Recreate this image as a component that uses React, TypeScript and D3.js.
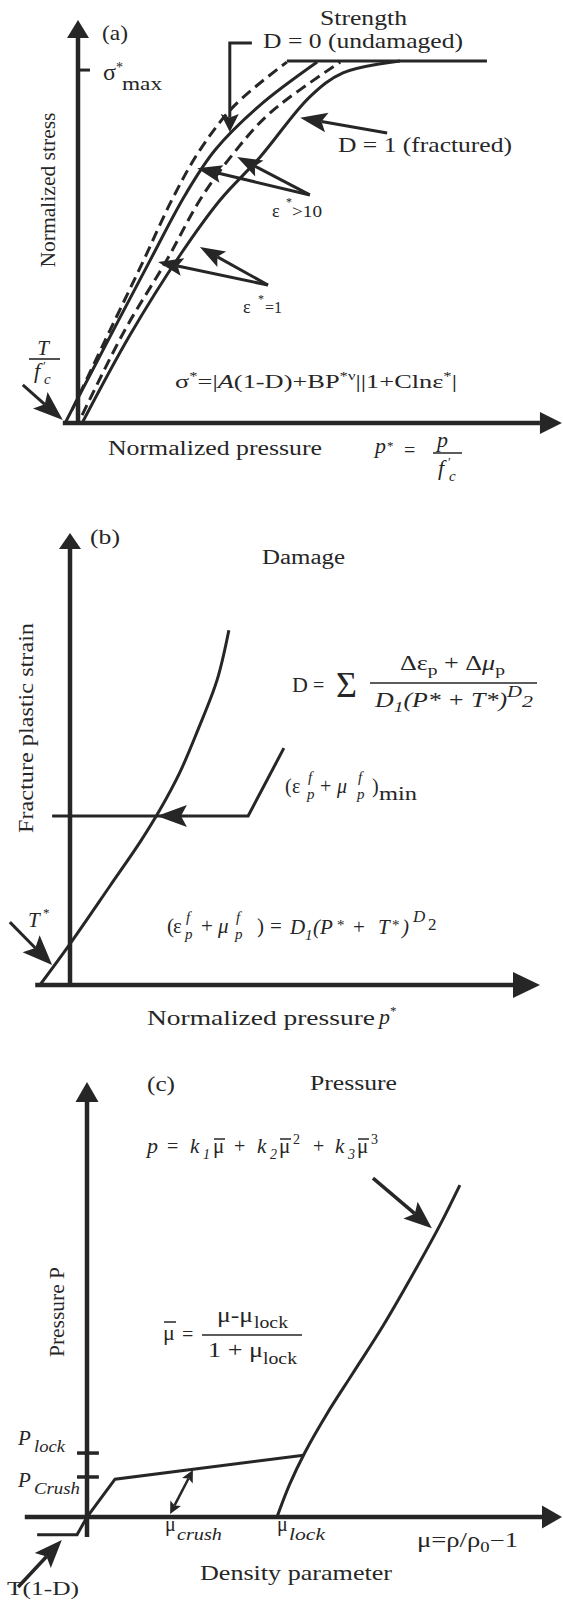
import React from 'react';
import * as d3 from 'd3';

type Pt = [number, number];

const W = 563;
const H = 1600;
const FONT = '"Liberation Serif","Times New Roman",Times,serif';
const INK = '#262626';

// ---------- Panel (a): strength surfaces (u = normalized pressure, v = normalized stress, cap = 100)
const strengthIntactHighRate: Pt[] = [[-1.3, 3.6], [7.0, 25.7], [14.1, 44.5], [20.4, 61.6], [26.5, 75.4], [34.1, 87.8], [45.4, 99.7]];
const strengthIntact: Pt[] = [[-2.8, 0], [0, 6.9], [15.7, 45.0], [23.3, 63.0], [29.8, 75.4], [39.6, 87.8], [52.0, 99.7]];
const strengthFracturedHighRate: Pt[] = [[0.9, 2.2], [10.2, 25.7], [19.3, 45.0], [26.5, 61.6], [33.5, 74.0], [41.7, 85.6], [57.0, 99.7]];
const strengthFractured: Pt[] = [[0.9, 0], [11.3, 24.3], [22.2, 46.4], [30.9, 61.6], [39.6, 73.5], [50.4, 90.1], [57.6, 96.7], [70.0, 100]];
const strengthCap: Pt[] = [[45.4, 100], [88.9, 100]];
const sigmaMaxLevel = 97.5;
const axisA = { x: [-3.3, 105.2], y: [0, 111.3] };
const arrowsA = {
  undamaged: [[37.8, 105], [33, 105], [33, 80.4]] as Pt[],
  fractured: [[67.2, 80.1], [48.3, 84.3]] as Pt[],
  highRate: [[[50.4, 63], [25.9, 70.4]], [[50.4, 63], [34.6, 73.5]]] as Pt[][],
  unitRate: [[[41.3, 38.1], [17.4, 44.5]], [[41.3, 38.1], [26.5, 48.6]]] as Pt[][],
  tension: [[-12, 10.5], [-3.3, 0.8]] as Pt[],
};

// ---------- Panel (b): fracture strain vs pressure
const fractureStrain: Pt[] = [[-6.4, 0], [0, 9.1], [8.5, 21.9], [14.9, 31.6], [19.1, 38.7], [23.4, 47.1], [27.2, 56.4], [31.3, 67.5], [33.8, 78.5]];
const minStrainLine: Pt[] = [[-3.8, 37.4], [37.9, 37.4], [45.5, 52.4]];
const minStrainArrowTip: Pt = [18.5, 37.4];
const axisB = { x: [-7.4, 100], y: [0, 100] };
const arrowsB = { tension: [[-12.8, 13.9], [-3.8, 4.4]] as Pt[] };

// ---------- Panel (c): pressure vs density
const crushPath: Pt[] = [[-10.5, -4.1], [-2.1, -4.1], [0, 0], [5.9, 8.7], [45.6, 14.2]];
const compactionCurve: Pt[] = [[40, 0], [42.7, 7.6], [45.9, 14.9], [50.5, 23.7], [56.0, 33.1], [62.3, 43.9], [68.4, 55.4], [74.3, 67.1], [78.5, 76.3]];
const pressureTicks = [14.7, 9.2];
const axisC = { x: [-13.1, 100], y: [-4.6, 100] };
const arrowsC = {
  formula: [[60.2, 77.9], [72.6, 66.4]] as Pt[],
  tension: [[-14.5, -16.1], [-5.3, -5.3]] as Pt[],
  crushSpan: [[17.5, 0.7], [22.3, 10.8]] as Pt[],
};

function headPath(tx: number, ty: number, ux: number, uy: number, len: number, hw: number, notch: number) {
  const bx = tx - ux * len, by = ty - uy * len;
  const mx = tx - ux * len * notch, my = ty - uy * len * notch;
  const nx = -uy, ny = ux;
  return `M${tx},${ty}L${bx + nx * hw},${by + ny * hw}L${mx},${my}L${bx - nx * hw},${by - ny * hw}Z`;
}

function Arrow({ pts, len, hw, sw, notch = 0.8, both = false }: { pts: Pt[]; len: number; hw: number; sw: number; notch?: number; both?: boolean }) {
  const n = pts.length;
  const [x1, y1] = pts[n - 2];
  const [x2, y2] = pts[n - 1];
  const L = Math.hypot(x2 - x1, y2 - y1);
  const ux = (x2 - x1) / L, uy = (y2 - y1) / L;
  const linePts = pts.map((p) => [p[0], p[1]] as Pt);
  linePts[n - 1] = [x2 - ux * len * notch, y2 - uy * len * notch];
  let startHead = null;
  if (both) {
    const [a0, a1] = pts[0];
    const [b0, b1] = pts[1];
    const L2 = Math.hypot(b0 - a0, b1 - a1);
    const vx = (a0 - b0) / L2, vy = (a1 - b1) / L2;
    linePts[0] = [a0 - vx * len * notch, a1 - vy * len * notch];
    startHead = <path d={headPath(a0, a1, vx, vy, len, hw, notch)} fill={INK} />;
  }
  return (
    <g>
      <path d={d3.line()(linePts) || ''} fill="none" stroke={INK} strokeWidth={sw} strokeLinejoin="miter" />
      <path d={headPath(x2, y2, ux, uy, len, hw, notch)} fill={INK} />
      {startHead}
    </g>
  );
}

function T({ x, y, size = 20, italic = false, anchor = 'start', len, transform, children }: any) {
  return (
    <text
      x={x}
      y={y}
      fontSize={size}
      fontStyle={italic ? 'italic' : 'normal'}
      textAnchor={anchor}
      textLength={len}
      lengthAdjust={len ? 'spacingAndGlyphs' : undefined}
      transform={transform}
      fill={INK}
      fontFamily={FONT}
    >
      {children}
    </text>
  );
}

function Bar({ x1, x2, y }: { x1: number; x2: number; y: number }) {
  return <line x1={x1} x2={x2} y1={y} y2={y} stroke={INK} strokeWidth={1.5} />;
}

export default function App() {
  const xA = d3.scaleLinear().domain([0, 100]).range([78, 538]);
  const yA = d3.scaleLinear().domain([0, 100]).range([423, 61]);
  const xB = d3.scaleLinear().domain([0, 100]).range([70, 540]);
  const yB = d3.scaleLinear().domain([0, 100]).range([985, 533]);
  const xC = d3.scaleLinear().domain([0, 100]).range([87, 562]);
  const yC = d3.scaleLinear().domain([0, 100]).range([1517, 1082]);

  const mk = (sx: any, sy: any) => (d: Pt): Pt => [sx(d[0]), sy(d[1])];
  const pA = mk(xA, yA), pB = mk(xB, yB), pC = mk(xC, yC);
  const smooth = (sx: any, sy: any) =>
    d3.line<Pt>().x((d) => sx(d[0])).y((d) => sy(d[1])).curve(d3.curveCatmullRom.alpha(0.5));
  const lineA = smooth(xA, yA), lineB = smooth(xB, yB), lineC = smooth(xC, yC);
  const straight = (sx: any, sy: any) => d3.line<Pt>().x((d) => sx(d[0])).y((d) => sy(d[1]));

  const curveStyle = { fill: 'none', stroke: INK, strokeWidth: 3 };
  const dashStyle = { ...curveStyle, strokeDasharray: '11 6' };

  return (
    <svg width={W} height={H} viewBox={`0 0 ${W} ${H}`} style={{ position: 'absolute', left: 0, top: 0, background: '#fff' }}>
      <rect width={W} height={H} fill="#fff" />

      {/* ================= Panel (a) ================= */}
      <Arrow pts={[pA([axisA.x[0], 0]), pA([axisA.x[1], 0])]} len={22} hw={11} sw={4.5} notch={1} />
      <Arrow pts={[pA([0, axisA.y[0]]), pA([0, axisA.y[1]])]} len={18} hw={11} sw={4.5} notch={1} />
      <line x1={xA(0)} x2={xA(2.6)} y1={yA(sigmaMaxLevel)} y2={yA(sigmaMaxLevel)} stroke={INK} strokeWidth={3} />
      <path d={lineA(strengthIntactHighRate) || ''} style={dashStyle} />
      <path d={lineA(strengthIntact) || ''} style={curveStyle} />
      <path d={lineA(strengthFracturedHighRate) || ''} style={dashStyle} />
      <path d={lineA(strengthFractured) || ''} style={curveStyle} />
      <path d={straight(xA, yA)(strengthCap) || ''} style={curveStyle} />

      <Arrow pts={arrowsA.undamaged.map(pA)} len={18} hw={9} sw={3} />
      <Arrow pts={arrowsA.fractured.map(pA)} len={27} hw={10} sw={3} />
      {arrowsA.highRate.map((a, i) => <Arrow key={'h' + i} pts={a.map(pA)} len={25} hw={9} sw={3} />)}
      {arrowsA.unitRate.map((a, i) => <Arrow key={'u' + i} pts={a.map(pA)} len={25} hw={9} sw={3} />)}
      <Arrow pts={arrowsA.tension.map(pA)} len={30} hw={11} sw={3} />

      <T x={102} y={40} size={21} len={26}>(a)</T>
      <T x={103} y={80} size={24}>σ</T>
      <T x={116} y={72} size={14}>*</T>
      <T x={122} y={90} size={19} len={40}>max</T>
      <T x={0} y={0} size={21.5} anchor="middle" len={155} transform="translate(55,190) rotate(-90)">Normalized stress</T>
      <T x={320} y={25} size={20} len={87}>Strength</T>
      <T x={263} y={48} size={22} len={200}>D = 0 (undamaged)</T>
      <T x={338} y={152} size={22} len={174}>D = 1 (fractured)</T>
      <T x={272} y={217} size={18}>ε</T>
      <T x={286} y={206} size={12}>*</T>
      <T x={292} y={217} size={17} len={30}>&gt;10</T>
      <T x={243} y={313} size={18}>ε</T>
      <T x={258} y={303} size={12}>*</T>
      <T x={265} y={313} size={17} len={17}>=1</T>
      <text x={175} y={388} fontSize={19} fill={INK} fontFamily={FONT} textLength={282} lengthAdjust="spacingAndGlyphs">
        σ<tspan dy={-8} fontSize={12}>*</tspan>
        <tspan dy={8}>=|</tspan>
        <tspan fontStyle="italic">A</tspan>
        <tspan>(1-D)+BP</tspan>
        <tspan dy={-8} fontSize={12}>*ν</tspan>
        <tspan dy={8}>||1+Clnε</tspan>
        <tspan dy={-8} fontSize={12}>*</tspan>
        <tspan dy={8}>|</tspan>
      </text>
      <T x={43} y={355} size={21} italic anchor="middle">T</T>
      <line x1={29} x2={60} y1={359} y2={359} stroke={INK} strokeWidth={1.6} />
      <T x={34} y={378} size={22} italic>f</T>
      <T x={43} y={370} size={13}>′</T>
      <T x={44} y={384} size={15} italic>c</T>
      <T x={108} y={455} size={20} len={214}>Normalized pressure</T>
      <T x={375} y={453} size={22} italic>p</T>
      <T x={387} y={450} size={13}>*</T>
      <T x={404} y={457} size={20}>=</T>
      <T x={437} y={447} size={22} italic>p</T>
      <line x1={433} x2={462} y1={453} y2={453} stroke={INK} strokeWidth={1.5} />
      <T x={438} y={475} size={22} italic>f</T>
      <T x={448} y={466} size={13}>′</T>
      <T x={449} y={481} size={15} italic>c</T>

      {/* ================= Panel (b) ================= */}
      <Arrow pts={[pB([axisB.x[0], 0]), pB([axisB.x[1], 0])]} len={27} hw={13} sw={4.5} notch={1} />
      <Arrow pts={[pB([0, axisB.y[0]]), pB([0, axisB.y[1]])]} len={16} hw={11} sw={4.5} notch={1} />
      <path d={lineB(fractureStrain) || ''} style={curveStyle} />
      <path d={straight(xB, yB)(minStrainLine) || ''} style={curveStyle} />
      <path d={headPath(xB(minStrainArrowTip[0]), yB(minStrainArrowTip[1]), -1, 0, 30, 11, 0.8)} fill={INK} />
      <Arrow pts={arrowsB.tension.map(pB)} len={30} hw={12} sw={3} />

      <T x={90} y={544} size={21} len={30}>(b)</T>
      <T x={262} y={564} size={20} len={83}>Damage</T>
      <T x={0} y={0} size={22} anchor="middle" len={210} transform="translate(33,728) rotate(-90)">Fracture plastic strain</T>
      <T x={292} y={692} size={22}>D</T>
      <T x={313} y={692} size={20}>=</T>
      <T x={336} y={697} size={36}>Σ</T>
      <line x1={370} x2={537} y1={683} y2={683} stroke={INK} strokeWidth={1.6} />
      <text x={400} y={670} fontSize={20} fill={INK} fontFamily={FONT} textLength={105} lengthAdjust="spacingAndGlyphs">
        Δε<tspan dy={5} fontSize={15}>p</tspan>
        <tspan dy={-5}> + Δ</tspan>
        <tspan fontStyle="italic">μ</tspan>
        <tspan dy={5} fontSize={15}>p</tspan>
      </text>
      <text x={375} y={707} fontSize={20} fill={INK} fontFamily={FONT} fontStyle="italic" textLength={158} lengthAdjust="spacingAndGlyphs">
        D<tspan dy={5} fontSize={15}>1</tspan>
        <tspan dy={-5}>(P* + T*)</tspan>
        <tspan dy={-10} fontSize={16}>D</tspan>
        <tspan dy={10} fontSize={17}>2</tspan>
      </text>

      <T x={285} y={793} size={20}>(</T>
      <T x={292} y={793} size={20}>ε</T>
      <T x={308} y={782} size={15} italic>f</T>
      <T x={307} y={799} size={15} italic>p</T>
      <T x={320} y={793} size={20}>+</T>
      <T x={337} y={793} size={20} italic>μ</T>
      <T x={358} y={782} size={15} italic>f</T>
      <T x={357} y={799} size={15} italic>p</T>
      <T x={372} y={793} size={20}>)</T>
      <T x={379} y={800} size={19} len={38}>min</T>

      <T x={167} y={933} size={21}>(</T>
      <T x={173} y={933} size={21}>ε</T>
      <T x={186} y={922} size={15} italic>f</T>
      <T x={185} y={939} size={15} italic>p</T>
      <T x={201} y={933} size={21}>+</T>
      <T x={218} y={933} size={21} italic>μ</T>
      <T x={236} y={922} size={15} italic>f</T>
      <T x={235} y={939} size={15} italic>p</T>
      <T x={257} y={933} size={21}>)</T>
      <T x={270} y={933} size={21}>=</T>
      <T x={290} y={934} size={21} italic>D</T>
      <T x={305} y={940} size={15} italic>1</T>
      <T x={313} y={934} size={21} italic>(</T>
      <T x={320} y={934} size={21} italic>P</T>
      <T x={337} y={930} size={15}>*</T>
      <T x={353} y={934} size={21}>+</T>
      <T x={378} y={934} size={21} italic>T</T>
      <T x={392} y={930} size={15}>*</T>
      <T x={402} y={934} size={21} italic>)</T>
      <T x={413} y={922} size={17} italic>D</T>
      <T x={428} y={930} size={17}>2</T>

      <T x={28} y={927} size={21} italic>T</T>
      <T x={43} y={917} size={13}>*</T>
      <T x={147} y={1025} size={21} len={228}>Normalized pressure</T>
      <T x={379} y={1024} size={22} italic>p</T>
      <T x={390} y={1015} size={13}>*</T>

      {/* ================= Panel (c) ================= */}
      <Arrow pts={[pC([axisC.x[0], 0]), pC([axisC.x[1], 0])]} len={20} hw={11.5} sw={4.5} notch={1} />
      <Arrow pts={[pC([0, axisC.y[0]]), pC([0, axisC.y[1]])]} len={20} hw={11.5} sw={4.5} notch={1} />
      {pressureTicks.map((v, i) => (
        <line key={'t' + i} x1={xC(-2.1)} x2={xC(2.5)} y1={yC(v)} y2={yC(v)} stroke={INK} strokeWidth={3.5} />
      ))}
      <path d={straight(xC, yC)(crushPath) || ''} style={curveStyle} />
      <path d={lineC(compactionCurve) || ''} style={curveStyle} />
      <Arrow pts={arrowsC.formula.map(pC)} len={28} hw={11} sw={3.5} />
      <Arrow pts={arrowsC.tension.map(pC)} len={28} hw={11} sw={3.5} />
      <Arrow pts={arrowsC.crushSpan.map(pC)} len={12} hw={6} sw={2.5} both />

      <T x={147} y={1091} size={21} len={28}>(c)</T>
      <T x={310} y={1090} size={20} len={87}>Pressure</T>
      <T x={147} y={1153} size={22} italic>p</T>
      <T x={167} y={1153} size={20}>=</T>
      <T x={190} y={1153} size={21} italic>k</T>
      <T x={203} y={1159} size={14} italic>1</T>
      <T x={213} y={1153} size={21}>μ</T>
      <Bar x1={214} x2={225} y={1139} />
      <T x={234} y={1153} size={20}>+</T>
      <T x={257} y={1153} size={21} italic>k</T>
      <T x={270} y={1159} size={14} italic>2</T>
      <T x={279} y={1153} size={21}>μ</T>
      <Bar x1={280} x2={291} y={1139} />
      <T x={293} y={1144} size={14}>2</T>
      <T x={313} y={1153} size={20}>+</T>
      <T x={335} y={1153} size={21} italic>k</T>
      <T x={348} y={1159} size={14} italic>3</T>
      <T x={357} y={1153} size={21}>μ</T>
      <Bar x1={358} x2={369} y={1139} />
      <T x={371} y={1144} size={14}>3</T>

      <T x={0} y={0} size={21} anchor="middle" len={90} transform="translate(64,1312) rotate(-90)">Pressure P</T>
      <T x={163} y={1340} size={22}>μ</T>
      <Bar x1={164} x2={176} y={1322} />
      <T x={182} y={1341} size={20}>=</T>
      <line x1={202} x2={302} y1={1335} y2={1335} stroke={INK} strokeWidth={1.6} />
      <T x={217} y={1322} size={20} len={36}>μ-μ</T>
      <T x={254} y={1328} size={16} len={34}>lock</T>
      <T x={208} y={1357} size={20} len={55}>1 + μ</T>
      <T x={263} y={1364} size={16} len={34}>lock</T>

      <T x={18} y={1445} size={21} italic>P</T>
      <T x={34} y={1452} size={17} italic len={31}>lock</T>
      <T x={18} y={1487} size={21} italic>P</T>
      <T x={34} y={1494} size={17} italic len={46}>Crush</T>
      <T x={165} y={1531} size={20}>μ</T>
      <T x={177} y={1540} size={17} italic len={45}>crush</T>
      <T x={277} y={1531} size={20}>μ</T>
      <T x={289} y={1540} size={17} italic len={36}>lock</T>
      <text x={417} y={1547} fontSize={20} fill={INK} fontFamily={FONT} textLength={101} lengthAdjust="spacingAndGlyphs">
        μ=ρ/ρ<tspan dy={5} fontSize={14}>0</tspan>
        <tspan dy={-5}>−1</tspan>
      </text>
      <T x={200} y={1580} size={21} len={192}>Density parameter</T>
      <T x={7} y={1595} size={19} len={72}>T(1-D)</T>
    </svg>
  );
}
